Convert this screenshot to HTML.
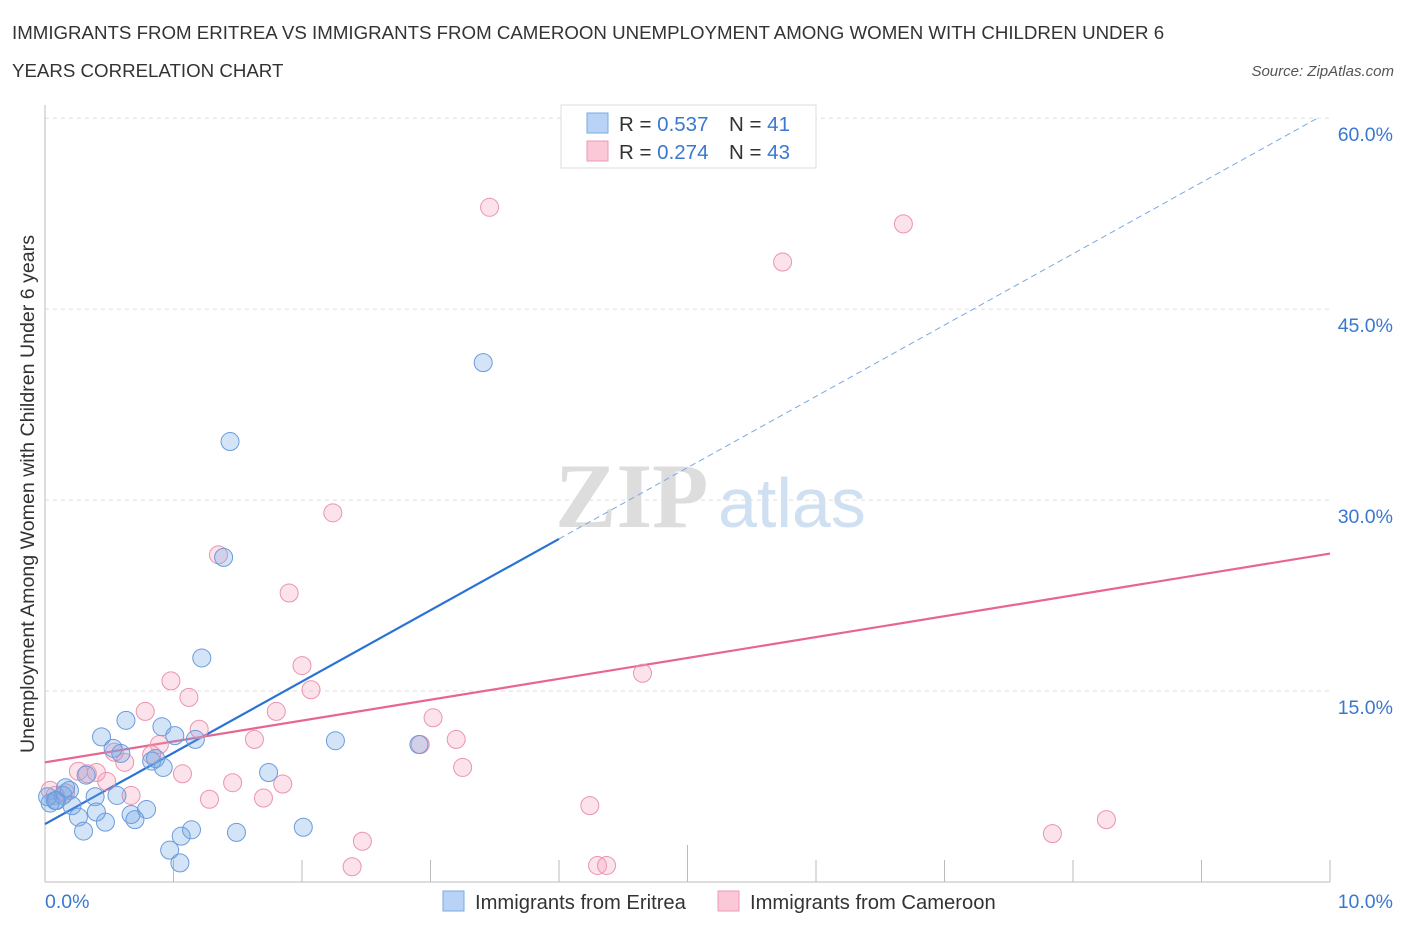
<!DOCTYPE html>
<html><head><meta charset="utf-8"><style>
body{margin:0;background:#fff;font-family:"Liberation Sans",sans-serif;}
</style></head><body>
<svg id="chart" width="1406" height="930" xmlns="http://www.w3.org/2000/svg" style="display:block">
<text x="12" y="39" font-size="18.7" fill="#333">IMMIGRANTS FROM ERITREA VS IMMIGRANTS FROM CAMEROON UNEMPLOYMENT AMONG WOMEN WITH CHILDREN UNDER 6</text>
<text x="12" y="77" font-size="18.7" fill="#333">YEARS CORRELATION CHART</text>
<text x="1394" y="76" font-size="15" fill="#555" text-anchor="end" font-style="italic">Source: ZipAtlas.com</text>
<text x="555" y="527" font-size="92" fill="#ddd" font-family="Liberation Serif,serif" font-weight="bold">ZIP</text>
<text x="718" y="527" font-size="70" fill="#cfe0f3">atlas</text>
<g id="grid"></g><g id="axes"></g><g id="lines"></g><g id="pts"></g>
<text transform="translate(34,494) rotate(-90)" font-size="19.6" fill="#333" text-anchor="middle">Unemployment Among Women with Children Under 6 years</text>
<g>
<rect x="561" y="105" width="255" height="63" fill="#fff" stroke="#ddd"/>
<rect x="587" y="113" width="21" height="20" fill="#b8d3f5" stroke="#7aa8e0"/>
<rect x="587" y="141" width="21" height="20" fill="#fac8d6" stroke="#ec9ab2"/>
<text x="619" y="131" font-size="20.5" fill="#333">R = <tspan fill="#3a78d0">0.537</tspan></text>
<text x="729" y="131" font-size="20.5" fill="#333">N = <tspan fill="#3a78d0"> 41</tspan></text>
<text x="619" y="159" font-size="20.5" fill="#333">R = <tspan fill="#3a78d0">0.274</tspan></text>
<text x="729" y="159" font-size="20.5" fill="#333">N = <tspan fill="#3a78d0">43</tspan></text>
</g>
<g>
<rect x="443" y="891" width="21" height="20" fill="#b8d3f5" stroke="#7aa8e0"/>
<text x="475" y="909" font-size="20.2" fill="#333">Immigrants from Eritrea</text>
<rect x="718" y="891" width="21" height="20" fill="#fac8d6" stroke="#ec9ab2"/>
<text x="750" y="909" font-size="20.2" fill="#333">Immigrants from Cameroon</text>
</g>
</svg>
<script>
const yTicks=[15,30,45,60];
const yTickLabels=["15.0%","30.0%","45.0%","60.0%"];
const xTicks=[0,1,2,3,4,5,6,7,8,9,10];
const eritreaX=[3.41,1.44,1.39,1.22,0.63,0.44,0.91,1.01,1.17,0.53,0.59,0.83,0.92,2.26,2.91,1.74,0.32,0.56,0.39,0.19,0.14,0.08,0.04,0.21,0.40,0.26,0.67,0.79,0.47,0.70,0.30,1.14,1.06,1.49,2.01,0.97,1.05,0.09,0.16,0.86,0.02];
const eritreaY=[40.8,34.6,25.5,17.6,12.7,11.4,12.2,11.5,11.2,10.5,10.1,9.5,9.0,11.1,10.8,8.6,8.4,6.8,6.7,7.2,6.8,6.4,6.2,6.0,5.5,5.1,5.3,5.7,4.7,4.9,4.0,4.1,3.6,3.9,4.3,2.5,1.5,6.4,7.4,9.7,6.7];
const cameroonX=[3.46,6.68,5.74,2.24,1.35,1.90,2.00,4.65,0.98,2.07,1.12,0.78,1.80,1.20,3.02,1.63,3.20,0.89,2.92,0.83,0.54,0.62,1.07,3.25,0.40,0.26,0.33,0.48,1.46,1.85,0.67,1.28,1.70,4.24,8.26,7.84,2.47,2.39,4.30,4.37,0.04,0.16,0.08];
const cameroonY=[53.0,51.7,48.7,29.0,25.7,22.7,17.0,16.4,15.8,15.1,14.5,13.4,13.4,12.0,12.9,11.2,11.2,10.8,10.8,10.0,10.2,9.4,8.5,9.0,8.6,8.7,8.5,7.9,7.8,7.7,6.8,6.5,6.6,6.0,4.9,3.8,3.2,1.2,1.3,1.3,7.2,7.0,6.8];
const eritreaFit=[4.55,5.6];   // intercept, slope
const cameroonFit=[9.4,1.64];
const NS="http://www.w3.org/2000/svg";
const X=v=>45+v*128.5, Y=v=>882-v*12.73;
function mk(tag,attrs,parent){const e=document.createElementNS(NS,tag);for(const k in attrs)e.setAttribute(k,attrs[k]);document.getElementById(parent).appendChild(e);return e;}
yTicks.forEach((t,i)=>{
 const g=mk('line',{x1:45,x2:1330,y1:Y(t),y2:Y(t),stroke:'#ddd','stroke-dasharray':'4,4'},'grid');
 
 
 const l=mk('text',{x:1393,y:Y(t)+23,'font-size':19.5,fill:'#3a78d0','text-anchor':'end'},'grid');
 l.textContent=yTickLabels[i];
 
 
});
const ax=mk('line',{x1:45,x2:1330,y1:882,y2:882,stroke:'#bbb'},'axes');


const ay=mk('line',{x1:45,x2:45,y1:105,y2:882,stroke:'#bbb'},'axes');


xTicks.forEach(t=>{if(t===0)return;
 const e=mk('line',{x1:X(t),x2:X(t),y1:882,y2:t===5?845:860,stroke:'#bbb'},'axes');
 
 
});
const x0=mk('text',{x:45,y:908,'font-size':19.5,fill:'#3a78d0'},'axes');x0.textContent='0.0%';


const x1=mk('text',{x:1393,y:908,'font-size':19.5,fill:'#3a78d0','text-anchor':'end'},'axes');x1.textContent='10.0%';


function pts(xs,ys,fill,stroke,name){xs.forEach((x,i)=>{
 const c=mk('circle',{cx:X(x),cy:Y(ys[i]),r:9,fill:fill,stroke:stroke,'stroke-width':1},'pts');
 
 
});}
pts(cameroonX,cameroonY,'rgba(245,160,185,0.3)','#ea94b0','point-cameroon');
pts(eritreaX,eritreaY,'rgba(110,165,230,0.3)','#6b9bdc','point-eritrea');
const f=(fit,x)=>fit[0]+fit[1]*x;
let l1=mk('line',{x1:X(0),y1:Y(f(eritreaFit,0)),x2:X(4),y2:Y(f(eritreaFit,4)),stroke:'#2a72d4','stroke-width':2.2},'lines');


let l2=mk('line',{x1:X(4),y1:Y(f(eritreaFit,4)),x2:X(9.92),y2:Y(f(eritreaFit,9.92)),stroke:'#7aa8e0','stroke-width':1,'stroke-dasharray':'6,4'},'lines');


let l3=mk('line',{x1:X(0),y1:Y(f(cameroonFit,0)),x2:X(10),y2:Y(f(cameroonFit,10)),stroke:'#e8658f','stroke-width':2.2},'lines');


</script>
</body></html>
